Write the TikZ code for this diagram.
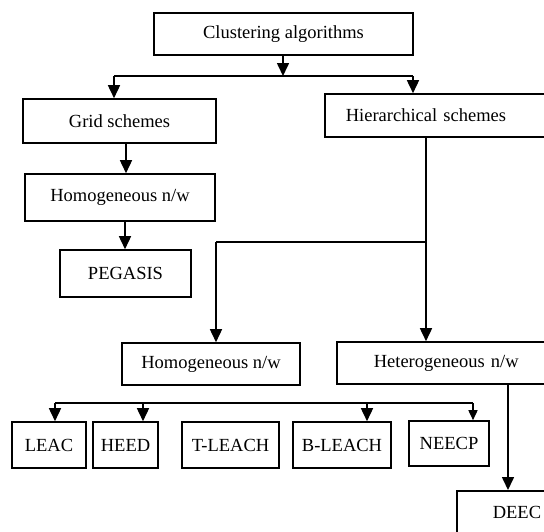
\documentclass[tikz,border=0pt]{standalone}
\usepackage{fontspec}
\setmainfont{Liberation Serif}
\usetikzlibrary{arrows.meta}
\begin{document}
\begin{tikzpicture}[x=1pt,y=-1pt,
  box/.style={draw,line width=1.6pt,rectangle,inner sep=0pt,font=\fontsize{18.5}{20}\selectfont},
  openbox/.style={box,anchor=west,align=left,inner xsep=#1},
  arr/.style={line width=1.6pt,-{Triangle[width=12pt,length=13pt]}},
  sarr/.style={line width=1.6pt,-{Triangle[width=9pt,length=10pt]}},
  ln/.style={line width=1.6pt}]
\useasboundingbox (0,0) rectangle (544,531);
\clip (0,0) rectangle (544,531);
\fill[white] (0,0) rectangle (544,531);
\node[box,minimum width=259pt,minimum height=42pt] (clu) at (283.5,34) {Clustering algorithms};
\node[box,minimum width=193pt,minimum height=44pt] (grid) at (119.5,121) {Grid schemes};
\node[openbox=21pt,text width=194pt,minimum height=43pt] (hier) at (324,115.5) {Hierarchical schemes};
\node[box,minimum width=190pt,minimum height=47pt] (homa) at (120,197.5) {Homogeneous n/w};
\node[box,minimum width=131pt,minimum height=47pt] (peg) at (125.5,273.5) {PEGASIS};
\node[box,minimum width=178pt,minimum height=42pt] (homb) at (211,364) {Homogeneous n/w};
\node[openbox=37pt,text width=180pt,minimum height=42pt] (het) at (336,363) {Heterogeneous n/w};
\node[box,minimum width=74pt,minimum height=46pt] (leac) at (49,445) {LEAC};
\node[box,minimum width=65pt,minimum height=46pt] (heed) at (125.5,445) {HEED};
\node[box,minimum width=97pt,minimum height=46pt] (tl) at (230.5,445) {T-LEACH};
\node[box,minimum width=98pt,minimum height=46pt] (bl) at (342,445) {B-LEACH};
\node[box,minimum width=80pt,minimum height=45pt] (nee) at (449,443.5) {NEECP};
\node[openbox=36pt,text width=100pt,minimum height=44pt,anchor=north west] (deec) at (456,490) {DEEC};
% top split
\coordinate (j1) at (283,76);
\coordinate (jl) at (114,76);
\coordinate (jr) at (413,76);
\draw[arr] (clu.south -| j1) -- (j1);
\draw[ln] (jl) -- (jr);
\draw[arr] (jl) -- (jl |- grid.north);
\draw[arr] (jr) -- (jr |- hier.north);
% left branch
\coordinate (gx) at (126,0);
\draw[arr] (grid.south -| gx) -- (gx |- homa.north);
\coordinate (hx) at (125,0);
\draw[arr] (homa.south -| hx) -- (hx |- peg.north);
% hierarchical branch
\coordinate (hv) at (426,242);
\coordinate (hl) at (216,242);
\draw[arr] (hier.south -| hv) -- (hv |- het.north);
\draw[ln] (hv) -- (hl);
\draw[arr] (hl) -- (hl |- homb.north);
% bottom split
\coordinate (bl1) at (55,403);
\coordinate (bl2) at (143,403);
\coordinate (bl3) at (367,403);
\coordinate (bl4) at (473,403);
\draw[ln] (bl1) -- (bl4);
\draw[arr] (bl1) -- (bl1 |- leac.north);
\draw[arr] (bl2) -- (bl2 |- heed.north);
\draw[arr] (bl3) -- (bl3 |- bl.north);
\draw[sarr] (bl4) -- (bl4 |- nee.north);
% heterogeneous to DEEC
\coordinate (dx) at (508,0);
\draw[arr] (het.south -| dx) -- (dx |- deec.north);
\end{tikzpicture}
\end{document}
